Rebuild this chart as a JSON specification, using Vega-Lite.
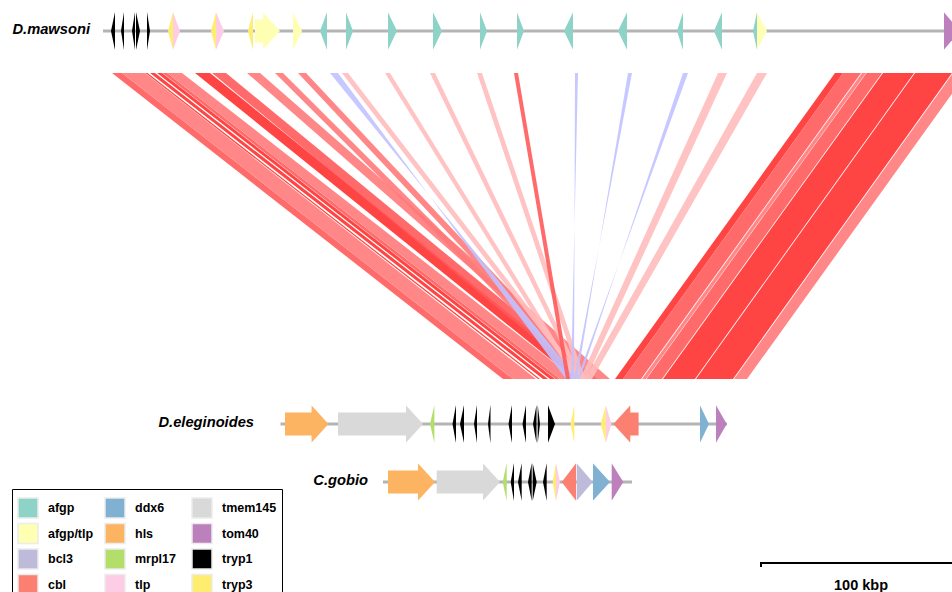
{
  "$schema": "https://vega.github.io/schema/vega-lite/v6.json",
  "width": 952,
  "height": 592,
  "autosize": {"type": "none"},
  "padding": 0,
  "background": "white",
  "config": {"view": {"stroke": null}},
  "datasets": {
    "links": [
      {"t1": 56, "t2": 61, "b1": 251.5, "b2": 256.5, "c": "m"},
      {"t1": 61, "t2": 72.5, "b1": 256.5, "b2": 268, "c": "l"},
      {"t1": 72.75, "t2": 73.75, "b1": 269, "b2": 270, "c": "h"},
      {"t1": 75, "t2": 77.5, "b1": 271.5, "b2": 274, "c": "h"},
      {"t1": 78.5, "t2": 81, "b1": 275, "b2": 277.5, "c": "h"},
      {"t1": 81.25, "t2": 83.5, "b1": 277.75, "b2": 280, "c": "m"},
      {"t1": 83.5, "t2": 91, "b1": 280, "b2": 287.5, "c": "l"},
      {"t1": 97.5, "t2": 105, "b1": 287.5, "b2": 295, "c": "h"},
      {"t1": 106, "t2": 113, "b1": 292, "b2": 299, "c": "m"},
      {"t1": 123.5, "t2": 130, "b1": 298.5, "b2": 305, "c": "l"},
      {"t1": 137.5, "t2": 141.5, "b1": 291, "b2": 295, "c": "l"},
      {"t1": 149, "t2": 153, "b1": 292.5, "b2": 296.5, "c": "l"},
      {"t1": 165, "t2": 169, "b1": 289, "b2": 283, "c": "inv"},
      {"t1": 171, "t2": 174, "b1": 289, "b2": 292, "c": "vl"},
      {"t1": 192.5, "t2": 195, "b1": 287, "b2": 289.5, "c": "vl"},
      {"t1": 215, "t2": 217.5, "b1": 289, "b2": 291.5, "c": "vl"},
      {"t1": 238.5, "t2": 241, "b1": 290, "b2": 292.5, "c": "vl"},
      {"t1": 257, "t2": 259, "b1": 283, "b2": 285, "c": "m"},
      {"t1": 287.5, "t2": 289, "b1": 287, "b2": 285.5, "c": "inv"},
      {"t1": 314, "t2": 316, "b1": 288.5, "b2": 287, "c": "inv"},
      {"t1": 341.5, "t2": 344, "b1": 290, "b2": 288.5, "c": "inv"},
      {"t1": 359, "t2": 363.5, "b1": 290, "b2": 293, "c": "vl"},
      {"t1": 378.5, "t2": 383.5, "b1": 292.5, "b2": 296, "c": "vl"},
      {"t1": 417.5, "t2": 421.5, "b1": 307.5, "b2": 311.5, "c": "h"},
      {"t1": 421.5, "t2": 430.5, "b1": 311.5, "b2": 320.5, "c": "m"},
      {"t1": 431, "t2": 433, "b1": 321, "b2": 323, "c": "l"},
      {"t1": 433.25, "t2": 441, "b1": 323.25, "b2": 331, "c": "m"},
      {"t1": 441.5, "t2": 457, "b1": 331.5, "b2": 347.5, "c": "h"},
      {"t1": 457.5, "t2": 476, "b1": 348, "b2": 366.5, "c": "h"},
      {"t1": 476.5, "t2": 483.5, "b1": 367, "b2": 373.5, "c": "l"}
    ],
    "tracks": [
      {"sp": "D.mawsoni", "s": 51.5, "e": 480},
      {"sp": "D.eleginoides", "s": 140.25, "e": 363.5},
      {"sp": "C.gobio", "s": 191.5, "e": 316}
    ],
    "genes": [
      {"sp": "D.mawsoni", "gene": "tryp1", "s": 55.5, "e": 57.5, "dir": "L"},
      {"sp": "D.mawsoni", "gene": "tryp1", "s": 60.5, "e": 62, "dir": "L"},
      {"sp": "D.mawsoni", "gene": "tryp1", "s": 66, "e": 67.5, "dir": "L"},
      {"sp": "D.mawsoni", "gene": "tryp1", "s": 68, "e": 70, "dir": "R"},
      {"sp": "D.mawsoni", "gene": "tryp1", "s": 73.5, "e": 75, "dir": "R"},
      {"sp": "D.mawsoni", "gene": "tryp3", "s": 84, "e": 86.5, "dir": "L"},
      {"sp": "D.mawsoni", "gene": "tlp", "s": 86.5, "e": 90, "dir": "R"},
      {"sp": "D.mawsoni", "gene": "tryp3", "s": 105.5, "e": 108, "dir": "L"},
      {"sp": "D.mawsoni", "gene": "tlp", "s": 108, "e": 112, "dir": "R"},
      {"sp": "D.mawsoni", "gene": "tryp3", "s": 124, "e": 126.5, "dir": "L"},
      {"sp": "D.mawsoni", "gene": "afgp/tlp", "s": 127.5, "e": 140, "dir": "R"},
      {"sp": "D.mawsoni", "gene": "afgp/tlp", "s": 146.5, "e": 151, "dir": "R"},
      {"sp": "D.mawsoni", "gene": "afgp", "s": 160, "e": 163.5, "dir": "L"},
      {"sp": "D.mawsoni", "gene": "afgp", "s": 173, "e": 176.5, "dir": "R"},
      {"sp": "D.mawsoni", "gene": "afgp", "s": 194, "e": 198.5, "dir": "R"},
      {"sp": "D.mawsoni", "gene": "afgp", "s": 216.5, "e": 221, "dir": "R"},
      {"sp": "D.mawsoni", "gene": "afgp", "s": 240, "e": 243.5, "dir": "R"},
      {"sp": "D.mawsoni", "gene": "afgp", "s": 258.5, "e": 262, "dir": "R"},
      {"sp": "D.mawsoni", "gene": "afgp", "s": 282, "e": 286.5, "dir": "L"},
      {"sp": "D.mawsoni", "gene": "afgp", "s": 309, "e": 313.5, "dir": "L"},
      {"sp": "D.mawsoni", "gene": "afgp", "s": 338.5, "e": 341.5, "dir": "L"},
      {"sp": "D.mawsoni", "gene": "afgp", "s": 357, "e": 361, "dir": "L"},
      {"sp": "D.mawsoni", "gene": "afgp", "s": 376.5, "e": 378.5, "dir": "L"},
      {"sp": "D.mawsoni", "gene": "afgp/tlp", "s": 378.5, "e": 383.5, "dir": "R"},
      {"sp": "D.mawsoni", "gene": "tom40", "s": 472, "e": 480, "dir": "R"},
      {"sp": "D.eleginoides", "gene": "hls", "s": 142.5, "e": 164.25, "dir": "R"},
      {"sp": "D.eleginoides", "gene": "tmem145", "s": 169, "e": 211.5, "dir": "R"},
      {"sp": "D.eleginoides", "gene": "mrpl17", "s": 215, "e": 217.2, "dir": "L"},
      {"sp": "D.eleginoides", "gene": "tryp1", "s": 226.25, "e": 228, "dir": "L"},
      {"sp": "D.eleginoides", "gene": "tryp1", "s": 230, "e": 232, "dir": "L"},
      {"sp": "D.eleginoides", "gene": "tryp1", "s": 237, "e": 238.5, "dir": "L"},
      {"sp": "D.eleginoides", "gene": "tryp1", "s": 244, "e": 245.25, "dir": "L"},
      {"sp": "D.eleginoides", "gene": "tryp1", "s": 254.25, "e": 256, "dir": "L"},
      {"sp": "D.eleginoides", "gene": "tryp1", "s": 261.25, "e": 263, "dir": "L"},
      {"sp": "D.eleginoides", "gene": "tryp1", "s": 266.5, "e": 268.25, "dir": "L"},
      {"sp": "D.eleginoides", "gene": "tryp1", "s": 268.85, "e": 270, "dir": "R"},
      {"sp": "D.eleginoides", "gene": "tryp1", "s": 274, "e": 277.5, "dir": "R"},
      {"sp": "D.eleginoides", "gene": "tryp3", "s": 285.3, "e": 287.15, "dir": "L"},
      {"sp": "D.eleginoides", "gene": "tryp3", "s": 300.4, "e": 302.9, "dir": "L"},
      {"sp": "D.eleginoides", "gene": "tlp", "s": 302.9, "e": 305.7, "dir": "R"},
      {"sp": "D.eleginoides", "gene": "cbl", "s": 306.65, "e": 319.3, "dir": "L"},
      {"sp": "D.eleginoides", "gene": "ddx6", "s": 350, "e": 354.5, "dir": "R"},
      {"sp": "D.eleginoides", "gene": "tom40", "s": 358, "e": 363.4, "dir": "R"},
      {"sp": "C.gobio", "gene": "hls", "s": 194, "e": 217.5, "dir": "R"},
      {"sp": "C.gobio", "gene": "tmem145", "s": 218.35, "e": 250, "dir": "R"},
      {"sp": "C.gobio", "gene": "mrpl17", "s": 251.35, "e": 253.35, "dir": "L"},
      {"sp": "C.gobio", "gene": "tryp1", "s": 255.35, "e": 257, "dir": "L"},
      {"sp": "C.gobio", "gene": "tryp1", "s": 259, "e": 260.85, "dir": "L"},
      {"sp": "C.gobio", "gene": "tryp1", "s": 264, "e": 265.85, "dir": "L"},
      {"sp": "C.gobio", "gene": "tryp1", "s": 266.35, "e": 268.35, "dir": "R"},
      {"sp": "C.gobio", "gene": "tryp1", "s": 271.5, "e": 273.35, "dir": "L"},
      {"sp": "C.gobio", "gene": "tryp3", "s": 276.35, "e": 278, "dir": "L"},
      {"sp": "C.gobio", "gene": "tlp", "s": 278, "e": 280, "dir": "R"},
      {"sp": "C.gobio", "gene": "cbl", "s": 280.85, "e": 288, "dir": "L"},
      {"sp": "C.gobio", "gene": "bcl3", "s": 288.35, "e": 296.35, "dir": "R"},
      {"sp": "C.gobio", "gene": "ddx6", "s": 296.5, "e": 305, "dir": "R"},
      {"sp": "C.gobio", "gene": "tom40", "s": 305.85, "e": 311.65, "dir": "R"}
    ],
    "scalebar": [
      {"s": 380.5, "e": 480.5, "label": "100 kbp"}
    ]
  },
  "layer": [
    {
      "data": {"name": "links"},
      "transform": [
        {"window": [{"op": "row_number", "as": "rid"}]},
        {"fold": ["t1", "b1"], "as": ["k", "xa"]},
        {"calculate": "datum.k === 't1' ? datum.t2 : datum.b2", "as": "xb"},
        {"calculate": "datum.k === 't1' ? 73 : 379", "as": "yy"}
      ],
      "mark": {"type": "area", "orient": "horizontal", "interpolate": "linear", "fillOpacity": 0.9, "clip": true},
      "encoding": {
        "y": {"field": "yy", "type": "quantitative", "scale": {"domain": [0, 592], "reverse": true, "nice": false, "zero": false}, "axis": null},
        "x": {"field": "xa", "type": "quantitative", "scale": {"domain": [0, 476], "nice": false, "zero": false}, "axis": null},
        "x2": {"field": "xb"},
        "fill": {"field": "c", "type": "nominal", "scale": {"domain": ["h", "m", "l", "vl", "inv"], "range": ["#ff3030", "#ff5a5a", "#ff7a7a", "#ffbcbc", "#c0c2ff"]}, "legend": null},
        "detail": {"field": "rid", "type": "nominal"}
      }
    },
    {
      "data": {"name": "tracks"},
      "transform": [
        {"calculate": "datum.sp === 'D.mawsoni' ? 31 : datum.sp === 'D.eleginoides' ? 424 : 482", "as": "yc"}
      ],
      "mark": {"type": "rule", "color": "#b4b4b4", "strokeWidth": 3, "clip": true},
      "encoding": {
        "x": {"field": "s", "type": "quantitative", "scale": {"domain": [0, 476], "nice": false, "zero": false}, "axis": null},
        "x2": {"field": "e"},
        "y": {"field": "yc", "type": "quantitative", "scale": {"domain": [0, 592], "reverse": true, "nice": false, "zero": false}, "axis": null}
      }
    },
    {
      "data": {"name": "genes"},
      "transform": [
        {"calculate": "datum.sp === 'D.mawsoni' ? 31 : datum.sp === 'D.eleginoides' ? 424 : 482", "as": "yc"},
        {"calculate": "datum.dir === 'R' ? 1 : -1", "as": "sg"},
        {"calculate": "min(datum.e - datum.s, 8.5)", "as": "hl"},
        {"calculate": "datum.e - datum.s > 8.5 ? 11.5 : 18.5", "as": "bh"},
        {"calculate": "datum.sg > 0 ? datum.s : datum.e", "as": "p0"},
        {"calculate": "datum.sg > 0 ? datum.e - datum.hl : datum.s + datum.hl", "as": "p1"},
        {"calculate": "datum.p1 + datum.sg * 0.05", "as": "p2"},
        {"calculate": "datum.sg > 0 ? datum.e : datum.s", "as": "p3"},
        {"window": [{"op": "row_number", "as": "gid"}]},
        {"fold": ["p0", "p1", "p2", "p3"], "as": ["k", "vx"]},
        {"calculate": "datum.k === 'p3' ? 0 : datum.k === 'p2' ? 18.5 : datum.bh", "as": "half"},
        {"calculate": "datum.yc - datum.half", "as": "ya"},
        {"calculate": "datum.yc + datum.half", "as": "yb"}
      ],
      "mark": {"type": "area", "orient": "vertical", "interpolate": "linear", "opacity": 1, "clip": true},
      "encoding": {
        "x": {"field": "vx", "type": "quantitative", "scale": {"domain": [0, 476], "nice": false, "zero": false}, "axis": null},
        "y": {"field": "ya", "type": "quantitative", "scale": {"domain": [0, 592], "reverse": true, "nice": false, "zero": false}, "axis": null},
        "y2": {"field": "yb"},
        "detail": {"field": "gid", "type": "nominal"},
        "color": {
          "field": "gene",
          "type": "nominal",
          "scale": {
            "domain": ["afgp", "afgp/tlp", "bcl3", "cbl", "ddx6", "hls", "mrpl17", "tlp", "tmem145", "tom40", "tryp1", "tryp3"],
            "range": ["#8dd3c7", "#ffffb3", "#bebada", "#fb8072", "#80b1d3", "#fdb462", "#b3de69", "#fccde5", "#d9d9d9", "#bc80bd", "#000000", "#ffed6f"]
          },
          "legend": {
            "orient": "none",
            "legendX": 12,
            "legendY": 489,
            "title": " ",
            "titleFontSize": 1,
            "titlePadding": 2,
            "columns": 3,
            "symbolType": "square",
            "symbolSize": 400,
            "symbolStrokeColor": "#ececec",
            "symbolStrokeWidth": 1.5,
            "symbolOpacity": 1,
            "labelFont": "Liberation Sans",
            "labelFontWeight": "bold",
            "labelFontSize": 12.5,
            "labelColor": "#000000",
            "labelOffset": 9,
            "rowPadding": -0.5,
            "columnPadding": -1,
            "gridAlign": "all",
            "padding": 5,
            "strokeColor": "#000000",
            "fillColor": "#ffffff",
            "encoding": {"legend": {"update": {"strokeWidth": {"value": 2}}}}
          }
        }
      }
    },
    {
      "data": {"name": "tracks"},
      "transform": [
        {"calculate": "datum.sp === 'D.mawsoni' ? 31 : datum.sp === 'D.eleginoides' ? 424 : 482", "as": "yc"},
        {"calculate": "datum.s - (datum.sp === 'D.eleginoides' ? 13.25 : datum.sp === 'D.mawsoni' ? 6.5 : 7.5)", "as": "lx"}
      ],
      "mark": {"type": "text", "align": "right", "baseline": "alphabetic", "dy": 2.5, "font": "Liberation Sans", "fontStyle": "italic", "fontWeight": "bold", "fontSize": 14.7, "color": "#000000"},
      "encoding": {
        "x": {"field": "lx", "type": "quantitative", "scale": {"domain": [0, 476], "nice": false, "zero": false}, "axis": null},
        "y": {"field": "yc", "type": "quantitative", "scale": {"domain": [0, 592], "reverse": true, "nice": false, "zero": false}, "axis": null},
        "text": {"field": "sp", "type": "nominal"}
      }
    },
    {
      "data": {"name": "scalebar"},
      "transform": [{"calculate": "563", "as": "yb"}],
      "mark": {"type": "rule", "color": "#000000", "strokeWidth": 2, "clip": true},
      "encoding": {
        "x": {"field": "s", "type": "quantitative", "scale": {"domain": [0, 476], "nice": false, "zero": false}, "axis": null},
        "x2": {"field": "e"},
        "y": {"field": "yb", "type": "quantitative", "scale": {"domain": [0, 592], "reverse": true, "nice": false, "zero": false}, "axis": null}
      }
    },
    {
      "data": {"name": "scalebar"},
      "transform": [{"calculate": "562", "as": "ya"}, {"calculate": "567", "as": "yz"}],
      "mark": {"type": "rule", "color": "#000000", "strokeWidth": 2},
      "encoding": {
        "x": {"field": "s", "type": "quantitative", "scale": {"domain": [0, 476], "nice": false, "zero": false}, "axis": null},
        "y": {"field": "ya", "type": "quantitative", "scale": {"domain": [0, 592], "reverse": true, "nice": false, "zero": false}, "axis": null},
        "y2": {"field": "yz"}
      }
    },
    {
      "data": {"name": "scalebar"},
      "transform": [{"calculate": "(datum.s + datum.e) / 2", "as": "mx"}, {"calculate": "589.5", "as": "ty"}],
      "mark": {"type": "text", "align": "center", "baseline": "alphabetic", "font": "Liberation Sans", "fontWeight": "bold", "fontSize": 14.5, "color": "#000000"},
      "encoding": {
        "x": {"field": "mx", "type": "quantitative", "scale": {"domain": [0, 476], "nice": false, "zero": false}, "axis": null},
        "y": {"field": "ty", "type": "quantitative", "scale": {"domain": [0, 592], "reverse": true, "nice": false, "zero": false}, "axis": null},
        "text": {"field": "label", "type": "nominal"}
      }
    }
  ]
}
